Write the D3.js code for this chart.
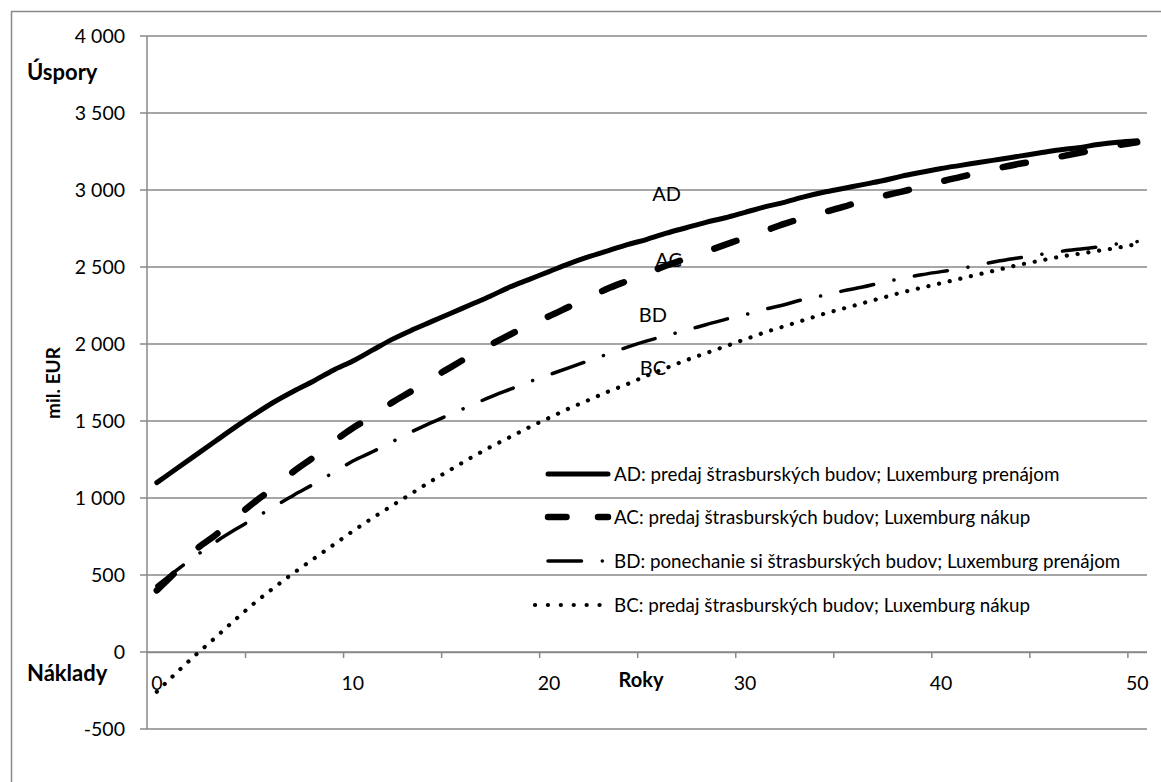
<!DOCTYPE html>
<html lang="sk">
<head>
<meta charset="UTF-8">
<title>Úspory</title>
<script src="https://d3js.org/d3.v7.min.js"></script>
<style>
    body { margin: 0; background: white; }
    svg { display: block; font-family: Lato, "Open Sans", sans-serif; }
</style>
</head>
<body>
<svg id="chart" width="1161" height="782"></svg>
<script>
    // roky 0..50 (kategórie)
    const years = d3.range(0, 51);

    const adValues = [1100, 1190, 1280, 1370, 1460, 1545, 1625, 1695, 1760, 1830,
        1890, 1960, 2030, 2090, 2145, 2200, 2255, 2310, 2370, 2420,
        2470, 2520, 2565, 2605, 2645, 2680, 2720, 2755, 2790, 2820,
        2855, 2890, 2920, 2955, 2985, 3010, 3035, 3060, 3090, 3115,
        3140, 3160, 3180, 3200, 3220, 3240, 3260, 3275, 3295, 3310, 3320];

    const acValues = [400, 525, 665, 760, 870, 975, 1070, 1175, 1265, 1365,
        1455, 1530, 1620, 1695, 1775, 1850, 1925, 1995, 2060, 2125,
        2180, 2240, 2300, 2360, 2410, 2460, 2510, 2555, 2600, 2645,
        2690, 2735, 2780, 2820, 2855, 2890, 2930, 2960, 2990, 3020,
        3055, 3085, 3115, 3145, 3170, 3190, 3215, 3240, 3265, 3290, 3310];

    const bdValues = [430, 530, 625, 715, 795, 870, 945, 1020, 1090, 1165,
        1240, 1300, 1365, 1430, 1490, 1545, 1600, 1655, 1705, 1755,
        1800, 1845, 1890, 1935, 1980, 2020, 2055, 2090, 2125, 2160,
        2190, 2225, 2255, 2290, 2315, 2345, 2370, 2400, 2425, 2450,
        2470, 2490, 2515, 2540, 2560, 2580, 2600, 2615, 2630, 2650, 2665];

    const bcValues = [-258, -135, -17, 95, 210, 320, 420, 515, 605, 695,
        785, 870, 950, 1030, 1110, 1185, 1260, 1330, 1395, 1460,
        1520, 1580, 1635, 1690, 1740, 1795, 1845, 1895, 1940, 1985,
        2030, 2075, 2115, 2155, 2195, 2230, 2265, 2300, 2335, 2365,
        2395, 2425, 2455, 2485, 2515, 2540, 2565, 2585, 2605, 2625, 2650];

    const seriesNames = [
        'AD: predaj štrasburských budov; Luxemburg prenájom',
        'AC: predaj štrasburských budov; Luxemburg nákup',
        'BD: ponechanie si štrasburských budov; Luxemburg prenájom',
        'BC: predaj štrasburských budov; Luxemburg nákup'
    ];
    const shortNames = ['AD', 'AC', 'BD', 'BC'];

    // popisky kriviek v grafe (rok, hodnota)
    const labelYears = [26, 26.1, 25.3, 25.3];
    const labelValues = [2975, 2545, 2190, 1845];

    const yTicks = d3.range(-500, 4001, 500);
    const xLabelTicks = [0, 10, 20, 30, 40, 50];
    const xMarkTicks = [4.5, 9.5, 14.5, 19.5, 24.5, 29.5, 34.5, 39.5, 44.5, 49.5];

    const styles = [
        { width: 5, dash: null },
        { width: 6.5, dash: '23.5,36.5' },
        { width: 3.5, dash: '33.5,20.75,0.1,20.75' },
        { width: 4.2, dash: '0.1,10.8' }
    ];
    const legendDash = [null, '18.5,31.5', '33.5,20.75,0.1,20.75', '0.1,12.8'];

    const svg = d3.select('#chart');
    const grid = '#898989';

    const x = d3.scaleLinear().domain([-0.5, 50.5]).range([147, 1147]);
    const y = d3.scaleLinear().domain([-500, 4000]).range([729, 36]);

    const sk = d3.formatLocale({ decimal: ',', thousands: ' ', grouping: [3], currency: ['', ' €'], minus: '-' });
    const fmt = sk.format(',d');

    // vonkajší rámik
    svg.append('rect')
        .attr('x', 11.5).attr('y', 11.5)
        .attr('width', 1200).attr('height', 820)
        .attr('fill', 'none')
        .attr('stroke', grid)
        .attr('stroke-width', 1.5);

    // mriežka
    svg.append('g').selectAll('line')
        .data(yTicks)
        .enter()
        .append('line')
        .attr('x1', 140).attr('x2', 1147)
        .attr('y1', d => y(d)).attr('y2', d => y(d))
        .attr('stroke', grid)
        .attr('stroke-width', 1.5);

    // os y
    svg.append('line')
        .attr('x1', 147).attr('x2', 147)
        .attr('y1', y(4000)).attr('y2', y(-500))
        .attr('stroke', grid).attr('stroke-width', 1.5);

    svg.append('g').selectAll('text')
        .data(yTicks)
        .enter()
        .append('text')
        .attr('x', 125)
        .attr('y', d => y(d))
        .attr('dy', '0.35em')
        .attr('text-anchor', 'end')
        .attr('font-size', 19.5)
        .text(d => fmt(d));

    // os x
    const xAxis = svg.append('g')
        .attr('transform', `translate(0,${y(0)})`)
        .call(d3.axisBottom(x).tickValues(xMarkTicks).tickSize(6).tickFormat(''));
    xAxis.select('.domain').attr('stroke', grid).attr('stroke-width', 1.5)
        .attr('d', `M147,0.5H1147`);
    xAxis.selectAll('.tick line').attr('stroke', grid).attr('stroke-width', 1.5);

    svg.append('g').selectAll('text')
        .data(xLabelTicks)
        .enter()
        .append('text')
        .attr('x', d => x(d))
        .attr('y', 683)
        .attr('dy', '0.35em')
        .attr('text-anchor', 'middle')
        .attr('font-size', 19.5)
        .text(d => d);

    // popisy osí
    svg.append('text').attr('x', 27).attr('y', 72).attr('dy', '0.35em')
        .attr('font-size', 22).attr('font-weight', 'bold').text('Úspory');
    svg.append('text').attr('x', 27).attr('y', 673).attr('dy', '0.35em')
        .attr('font-size', 22).attr('font-weight', 'bold').text('Náklady');
    svg.append('text').attr('x', 641).attr('y', 680).attr('dy', '0.35em')
        .attr('text-anchor', 'middle')
        .attr('font-size', 20).attr('font-weight', 'bold').text('Roky');
    svg.append('text')
        .attr('transform', 'translate(53,383) rotate(-90)')
        .attr('dy', '0.35em')
        .attr('text-anchor', 'middle')
        .attr('font-size', 19).attr('font-weight', 'bold').text('mil. EUR');

    // krivky
    const series = [adValues, acValues, bdValues, bcValues];
    const line = d3.line()
        .x((d, i) => x(years[i]))
        .y(d => y(d))
        .curve(d3.curveMonotoneX);

    // poradie kreslenia: BC, BD, AC, AD
    [3, 2, 1, 0].forEach(k => {
        svg.append('path')
            .datum(series[k])
            .attr('d', line)
            .attr('fill', 'none')
            .attr('stroke', 'black')
            .attr('stroke-width', styles[k].width)
            .attr('stroke-linecap', 'round')
            .attr('stroke-linejoin', 'round')
            .attr('stroke-dasharray', styles[k].dash);
    });

    // popisky kriviek
    svg.append('g').selectAll('text')
        .data(shortNames)
        .enter()
        .append('text')
        .attr('x', (d, i) => x(labelYears[i]))
        .attr('y', (d, i) => y(labelValues[i]))
        .attr('dy', '0.35em')
        .attr('text-anchor', 'middle')
        .attr('font-size', 20)
        .text(d => d);

    // legenda
    const legendY = [474, 517, 561, 605];
    const legend = svg.append('g');
    seriesNames.forEach((name, k) => {
        const x0 = k == 3 ? 535 : 548;
        legend.append('line')
            .attr('x1', x0).attr('x2', 608)
            .attr('y1', legendY[k]).attr('y2', legendY[k])
            .attr('stroke', 'black')
            .attr('stroke-width', styles[k].width)
            .attr('stroke-linecap', 'round')
            .attr('stroke-dasharray', legendDash[k]);
        legend.append('text')
            .attr('x', 614)
            .attr('y', legendY[k])
            .attr('dy', '0.35em')
            .attr('font-size', 18.8)
            .text(name);
    });
</script>
</body>
</html>
